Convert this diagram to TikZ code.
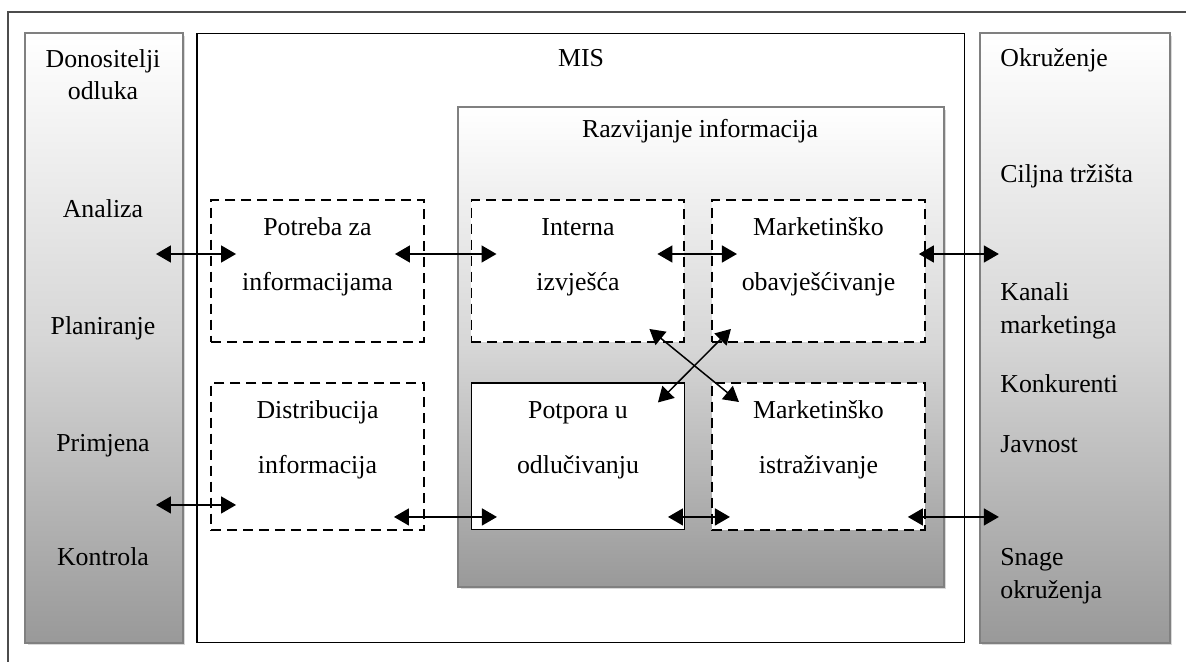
\documentclass[tikz,border=0pt]{standalone}
\usepackage{fontspec}
\setmainfont{Liberation Serif}
\usetikzlibrary{arrows.meta,shapes}
\usetikzlibrary{positioning,calc,shadows}
\tikzstyle{sidebox} = [draw=black!50, line width=1.1pt, top color=white,
    bottom color=black!40, middle color=black!16, minimum height=12.2cm,
    drop shadow={shadow xshift=0.05cm, shadow yshift=-0.05cm, opacity=0.3}]
\tikzstyle{misbox} = [draw, line width=0.6pt, fill=white,
    minimum width=15.36cm, minimum height=12.2cm]
\tikzstyle{devbox} = [draw=black!50, line width=1.1pt, top color=white,
    bottom color=black!40, middle color=black!16, minimum width=9.72cm,
    minimum height=9.6cm,
    drop shadow={shadow xshift=0.05cm, shadow yshift=-0.05cm, opacity=0.3}]
\tikzstyle{dashbox} = [draw, fill=white, line width=1.1pt,
    dash pattern=on 5.7pt off 3.4pt, minimum width=4.26cm]
\tikzstyle{solidbox} = [draw, fill=white, line width=0.6pt, minimum width=4.26cm]
\tikzstyle{txt} = [align=center, inner sep=0pt, anchor=base]
\tikzstyle{rtxt} = [align=left, inner sep=0pt, anchor=base west]
\tikzstyle{both} = [{Triangle[length=0.3cm,width=0.34cm]}-{Triangle[length=0.3cm,width=0.34cm]},
    line width=0.85pt, shorten <=-0.56cm, shorten >=-0.52cm]

\begin{document}
\begin{tikzpicture}[x=0.02cm, y=-0.02cm, node distance = 3cm, auto,
    font=\fontsize{14.7}{18.3}\selectfont]
  \useasboundingbox (0,0) rectangle (1186,662);
  \draw [black!70, line width=0.6pt] (8,662) -- (8,12) -- (1186,12);
  % Place nodes
  \node [sidebox, minimum width=3.16cm] (dl) at (104,338) {};
  \node [misbox, right of=dl, node distance=9.54cm] (mis) {};
  \node [sidebox, minimum width=3.8cm, right of=mis, node distance=9.88cm] (ok) {};
  \node [devbox] (ri) at (701,347) {};
  \node [dashbox, minimum height=2.84cm] (pz) at (317.5,271) {};
  \node [dashbox, minimum height=2.84cm, right of=pz, node distance=5.21cm] (ii) {};
  \node [dashbox, minimum height=2.84cm, right of=ii, node distance=4.81cm] (mo) {};
  \node [dashbox, minimum height=2.94cm, below of=pz, node distance=3.71cm] (di) {};
  \node [solidbox, minimum height=2.94cm, right of=di, node distance=5.21cm] (pu) {};
  \node [dashbox, minimum height=2.94cm, right of=pu, node distance=4.81cm] (mi) {};
  % Texts
  \node [txt] (dlt) at (103,100) {Donositelji\\odluka};
  \node [txt] (an) at (103,217) {Analiza};
  \node [txt] (pl) at (103,334) {Planiranje};
  \node [txt] (pr) at (103,451) {Primjena};
  \node [txt] (ko) at (103,565) {Kontrola};
  \node [txt] (mist) at (581,67) {MIS};
  \node [txt] (rit) at (700,138) {Razvijanje informacija};
  \node [txt] (pzt) at (317.5,290) {Potreba za\\[13pt]informacijama};
  \node [txt] (iit) at (578,290) {Interna\\[13pt]izvješća};
  \node [txt] (mot) at (818.5,290) {Marketinško\\[13pt]obavješćivanje};
  \node [txt] (dit) at (317.5,473) {Distribucija\\[13pt]informacija};
  \node [txt] (put) at (578,473) {Potpora u\\[13pt]odlučivanju};
  \node [txt] (mit) at (818.5,473) {Marketinško\\[13pt]istraživanje};
  \node [rtxt] (okt) at (1000,67) {Okruženje};
  \node [rtxt] (ct) at (1000,183) {Ciljna tržišta};
  \node [rtxt] (km) at (1000,333) {Kanali\\marketinga};
  \node [rtxt] (kk) at (1000,392) {Konkurenti};
  \node [rtxt] (jv) at (1000,452) {Javnost};
  \node [rtxt] (so) at (1000,598) {Snage\\okruženja};
  % Arrows
  \draw [both] ([yshift=0.34cm]dl.east |- pz.west) -- ([yshift=0.34cm]pz.west);
  \draw [both, shorten <=-0.6cm] ([yshift=0.34cm]pz.east) -- ([yshift=0.34cm]ii.west);
  \draw [both] ([yshift=0.34cm]ii.east) -- ([yshift=0.34cm]mo.west);
  \draw [both, shorten <=-0.14cm, shorten >=-0.4cm] ([yshift=0.34cm]mo.east) -- ([yshift=0.34cm]ok.west |- mo.west);
  \draw [both] ([yshift=-0.97cm]dl.east |- di.west) -- ([yshift=-0.97cm]di.west);
  \draw [both, shorten <=-0.62cm] ([yshift=-1.21cm]di.east) -- ([yshift=-1.21cm]pu.west);
  \draw [both, shorten <=-0.34cm, shorten >=-0.38cm] ([yshift=-1.21cm]pu.east) -- ([yshift=-1.21cm]mi.west);
  \draw [both, shorten <=-0.36cm, shorten >=-0.4cm] ([yshift=-1.21cm]mi.east) -- ([yshift=-1.21cm]ok.west |- mi.west);
  \draw [both, shorten <=0pt, shorten >=0pt] ($(ii.south east)+(-36,-14)$) -- ($(mi.north west)+(28,20)$);
  \draw [both, shorten <=0pt, shorten >=0pt] ($(mo.south west)+(20,-14)$) -- ($(pu.north east)+(-27,20)$);
\end{tikzpicture}
\end{document}
